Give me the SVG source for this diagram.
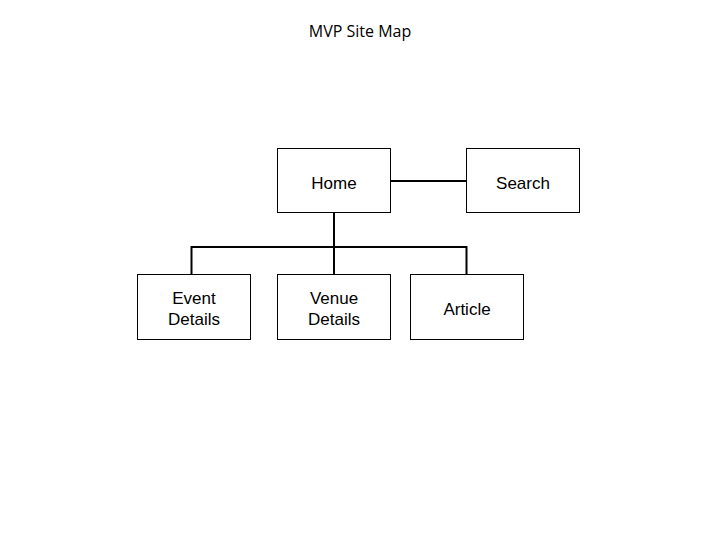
<svg xmlns="http://www.w3.org/2000/svg" width="720" height="540" viewBox="0 0 720 540">
<style>
.box{fill:#fff;stroke:#000;stroke-width:1}
.lbl{font-family:"Liberation Sans",Arial,sans-serif;font-size:17px;fill:#000;text-anchor:middle}
.title{font-family:"Open Sans","Liberation Sans",sans-serif;font-size:16px;fill:#000;text-anchor:middle}
.conn{fill:none;stroke:#000;stroke-width:2}
</style>
<rect width="720" height="540" fill="#fff"/>
<text class="title" x="360" y="37">MVP Site Map</text>
<g id="connectors">
<path class="conn" d="M390.5,181 H466"/>
<path class="conn" d="M334,213 V247"/>
<path class="conn" d="M191.5,274 V247 H466.5 V274"/>
<path class="conn" d="M334,247 V274"/>
</g>
<g id="home"><rect class="box" x="277.5" y="148.5" width="113" height="64"/><text class="lbl" x="334" y="189">Home</text></g>
<g id="search"><rect class="box" x="466.5" y="148.5" width="113" height="64"/><text class="lbl" x="523" y="189">Search</text></g>
<g id="event"><rect class="box" x="137.5" y="274.5" width="113" height="65"/><text class="lbl" x="194" y="304">Event</text><text class="lbl" x="194" y="325">Details</text></g>
<g id="venue"><rect class="box" x="277.5" y="274.5" width="113" height="65"/><text class="lbl" x="334" y="304">Venue</text><text class="lbl" x="334" y="325">Details</text></g>
<g id="article"><rect class="box" x="410.5" y="274.5" width="113" height="65"/><text class="lbl" x="467" y="315">Article</text></g>
</svg>
